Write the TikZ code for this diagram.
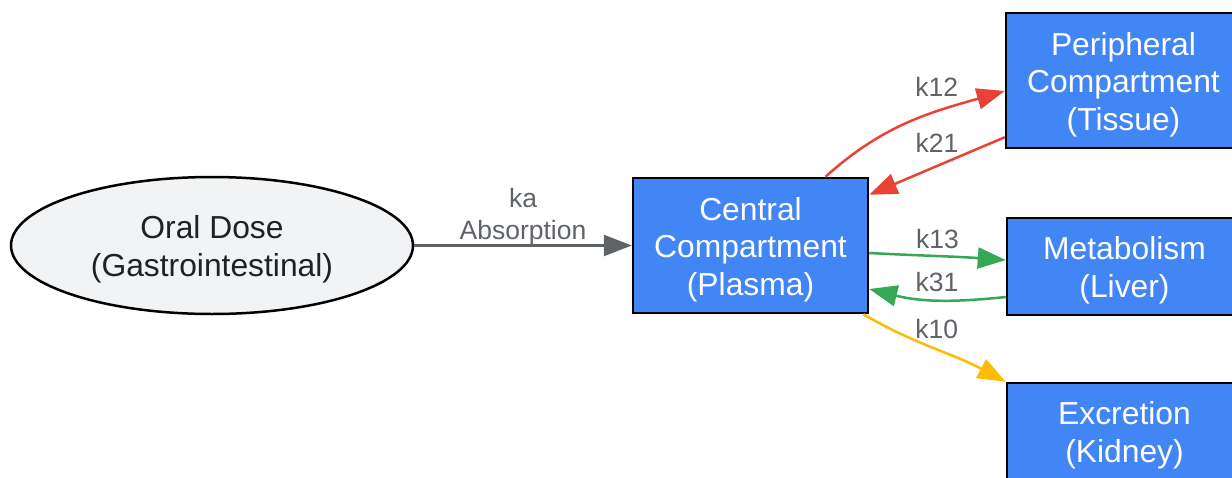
\documentclass[tikz,border=0pt]{standalone}
\usepackage{fontspec}
\setmainfont{Liberation Sans}
\usetikzlibrary{arrows.meta,shapes.geometric}
\definecolor{boxblue}{HTML}{4285F4}
\definecolor{ovalfill}{HTML}{F1F3F4}
\definecolor{darktext}{HTML}{202124}
\definecolor{labgray}{HTML}{5F6368}
\definecolor{ered}{HTML}{EA4335}
\definecolor{egreen}{HTML}{34A853}
\definecolor{eyellow}{HTML}{FBBC04}
\newcommand\myTopStrut{\rule{0pt}{31pt}}
\tikzset{
  nodefont/.style={font=\fontsize{31.8}{37.5}\selectfont},
  compbox/.style={rectangle, draw=black, line width=2.5pt, fill=boxblue, text=white,
    nodefont, align=center, inner sep=0pt, minimum width=235pt},
  oralnode/.style={ellipse, draw=black, line width=2.5pt, fill=ovalfill, text=darktext,
    nodefont, align=center, inner sep=0pt, minimum width=402pt, minimum height=137pt},
  flow/.style={line width=2.5pt, -{Triangle[length=28pt,width=21pt]}},
  lab/.style={text=labgray, font=\fontsize{26.5}{32}\selectfont, align=center, inner sep=0pt}
}
\begin{document}
\begin{tikzpicture}[x=1pt,y=-1pt]
\useasboundingbox (0,0) rectangle (1232,477);
\node[oralnode] (oral) at (212,245.5) {\myTopStrut Oral Dose\\(Gastrointestinal)};
\node[compbox, minimum height=135pt] (central) at (750.5,245.5) {\myTopStrut Central\\Compartment\\(Plasma)};
\node[compbox, minimum height=135pt] (periph) at (1123.5,80.5) {\myTopStrut Peripheral\\Compartment\\(Tissue)};
\node[compbox, minimum height=97pt] (metab) at (1124.5,266.5) {\myTopStrut Metabolism\\(Liver)};
\node[compbox, minimum height=97pt] (excr) at (1124.5,431.5) {\myTopStrut Excretion\\(Kidney)};

\draw[flow, labgray] (oral.east) -- (central.west)
  node[lab, midway, above=-1pt] {ka\\Absorption};

\draw[flow, ered] ([xshift=75pt]central.north) to[out=42,in=196]
  node[lab, pos=0.66, above=14pt] {k12} ([yshift=-10.5pt]periph.west);
\draw[flow, ered] ([yshift=12pt]periph.south west) --
  node[lab, pos=0.5, above=12pt] {k21} ([yshift=-18pt]central.north east);

\draw[flow, egreen] ([yshift=-7.5pt]central.east) to[out=-3,in=176]
  node[lab, pos=0.5, above=6pt] {k13} ([yshift=6.5pt]metab.west);
\draw[flow, egreen] ([yshift=-30.5pt]metab.west) to[out=186,in=-14]
  node[lab, pos=0.5, above=7pt] {k31} ([yshift=-43.5pt]central.east);

\draw[flow, eyellow] ([xshift=-6pt]central.south east) to[out=-30,in=152]
  node[lab, pos=0.52, above=10pt] {k10} (excr.north west);
\end{tikzpicture}
\end{document}
